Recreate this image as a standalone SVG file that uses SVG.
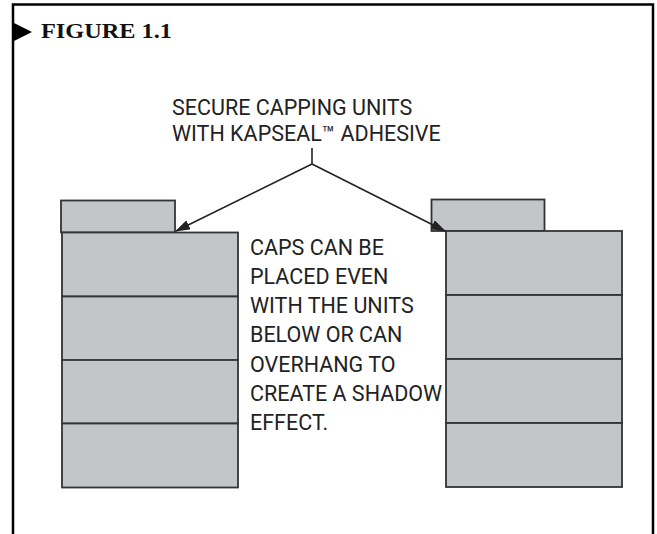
<svg xmlns="http://www.w3.org/2000/svg" width="657" height="534" viewBox="0 0 657 534">
  <style>
    .frame { fill: none; stroke: #000; stroke-width: 2.5; }
    .unit { fill: #c4c5c8; stroke: #333; stroke-width: 1.8; }
    .lbl { font-family: Roboto, "Liberation Sans", sans-serif; font-size: 21.5px; fill: #222; }
    .title { font-family: "Liberation Serif", serif; font-weight: bold; font-size: 21.5px; fill: #111; }
    .conn { stroke: #222; stroke-width: 1.6; fill: none; }
  </style>
  <defs>
    <marker id="ah" markerWidth="15" markerHeight="10" refX="14" refY="5" orient="auto" markerUnits="userSpaceOnUse">
      <path d="M0,0 L15,5 L0,10 Z" fill="#222"/>
    </marker>
  </defs>
  <rect width="657" height="534" fill="#fff"/>
  <g id="frame">
    <path class="frame" d="M13,534 V4.5 H653 V534"/>
    <polygon points="12,22 32,32 12,42" fill="#000"/>
    <text class="title" x="41" y="37.5" textLength="131" lengthAdjust="spacingAndGlyphs">FIGURE 1.1</text>
  </g>
  <g id="left-stack">
    <rect class="unit" x="61" y="200.5" width="114" height="32"/>
    <rect class="unit" x="62" y="232.5" width="176" height="64"/>
    <rect class="unit" x="62" y="296.5" width="176" height="64"/>
    <rect class="unit" x="62" y="360" width="176" height="63.5"/>
    <rect class="unit" x="62" y="423.5" width="176" height="64"/>
  </g>
  <g id="right-stack">
    <rect class="unit" x="431.5" y="199.5" width="113" height="31.5"/>
    <rect class="unit" x="446" y="231" width="176" height="64"/>
    <rect class="unit" x="446" y="295" width="176" height="64"/>
    <rect class="unit" x="446" y="359" width="176" height="64"/>
    <rect class="unit" x="446" y="423" width="176" height="64"/>
  </g>
  <g id="label-top">
    <text class="lbl" x="172" y="114.5">SECURE CAPPING UNITS</text>
    <text class="lbl" x="172" y="140.5">WITH KAPSEAL™ ADHESIVE</text>
  </g>
  <g id="label-middle">
    <text class="lbl" x="250" y="254.5">CAPS CAN BE</text>
    <text class="lbl" x="250" y="283.8">PLACED EVEN</text>
    <text class="lbl" x="250" y="313.1">WITH THE UNITS</text>
    <text class="lbl" x="250" y="342.4">BELOW OR CAN</text>
    <text class="lbl" x="250" y="371.7">OVERHANG TO</text>
    <text class="lbl" x="250" y="401">CREATE A SHADOW</text>
    <text class="lbl" x="250" y="430.3">EFFECT.</text>
  </g>
  <g id="connectors">
    <line class="conn" x1="312" y1="148" x2="312" y2="164" stroke-width="2.8"/>
    <line class="conn" x1="312" y1="164" x2="176" y2="231" marker-end="url(#ah)"/>
    <line class="conn" x1="312" y1="164" x2="445" y2="231" marker-end="url(#ah)"/>
  </g>
</svg>
